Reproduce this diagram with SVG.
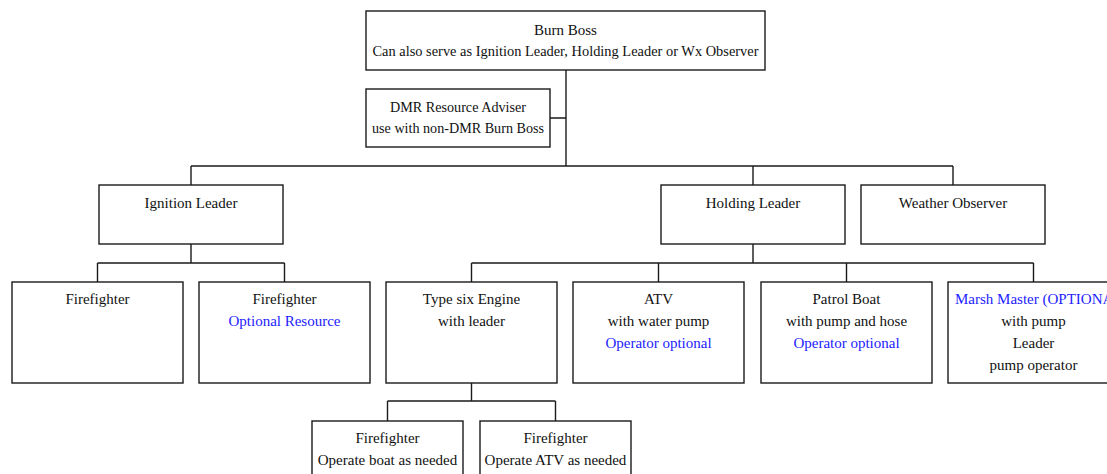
<svg xmlns="http://www.w3.org/2000/svg" width="1107" height="474" viewBox="0 0 1107 474">
<style>
.box{fill:#fff;stroke:#1a1a1a;stroke-width:1.4}
.ln{fill:none;stroke:#1a1a1a;stroke-width:1.4}
text{font-family:"Liberation Serif","Times New Roman",serif;font-size:15px;fill:#111;text-anchor:middle}
.opt{fill:#2222ff}
</style>
<rect width="1107" height="474" fill="#fff"/>
<g id="connectors">
<path class="ln" d="M566,70 V166 M550,118 H566 M191,166 H953 M191,166 V185 M753,166 V185 M953,166 V185"/>
<path class="ln" d="M191,244 V263 M97.5,263 H284.5 M97.5,263 V282 M284.5,263 V282"/>
<path class="ln" d="M753,244 V263 M471.5,263 H1033.5 M471.5,263 V282 M658.5,263 V282 M846.5,263 V282 M1033.5,263 V282"/>
<path class="ln" d="M471.5,383 V401 M387.5,401 H555.5 M387.5,401 V421 M555.5,401 V421"/>
</g>
<g id="burn-boss"><rect class="box" x="366" y="11" width="399" height="59"/><text x="565.5" y="35">Burn Boss</text><text x="565.5" y="56" textLength="386" lengthAdjust="spacingAndGlyphs">Can also serve as Ignition Leader, Holding Leader or Wx Observer</text></g>
<g id="dmr-adviser"><rect class="box" x="366" y="89" width="184" height="58"/><text x="458" y="112" textLength="136" lengthAdjust="spacingAndGlyphs">DMR Resource Adviser</text><text x="458" y="133" textLength="172" lengthAdjust="spacingAndGlyphs">use with non-DMR Burn Boss</text></g>
<g id="ignition-leader"><rect class="box" x="99" y="185" width="184" height="59"/><text x="191" y="208">Ignition Leader</text></g>
<g id="holding-leader"><rect class="box" x="661" y="185" width="184" height="59"/><text x="753" y="208">Holding Leader</text></g>
<g id="weather-observer"><rect class="box" x="861" y="185" width="184" height="59"/><text x="953" y="208">Weather Observer</text></g>
<g id="firefighter-1"><rect class="box" x="12" y="282" width="171" height="101"/><text x="97.5" y="304">Firefighter</text></g>
<g id="firefighter-2"><rect class="box" x="199" y="282" width="171" height="101"/><text x="284.5" y="304">Firefighter</text><text class="opt" x="284.5" y="326">Optional Resource</text></g>
<g id="type-six-engine"><rect class="box" x="386" y="282" width="171" height="101"/><text x="471.5" y="304">Type six Engine</text><text x="471.5" y="326">with leader</text></g>
<g id="atv"><rect class="box" x="573" y="282" width="171" height="101"/><text x="658.5" y="304">ATV</text><text x="658.5" y="326">with water pump</text><text class="opt" x="658.5" y="348">Operator optional</text></g>
<g id="patrol-boat"><rect class="box" x="761" y="282" width="171" height="101"/><text x="846.5" y="304">Patrol Boat</text><text x="846.5" y="326">with pump and hose</text><text class="opt" x="846.5" y="348">Operator optional</text></g>
<g id="marsh-master"><rect class="box" x="948" y="282" width="171" height="101"/><text class="opt" x="955" y="304" style="text-anchor:start">Marsh Master (OPTIONAL)</text><text x="1033.5" y="326">with pump</text><text x="1033.5" y="348">Leader</text><text x="1033.5" y="370">pump operator</text></g>
<g id="firefighter-boat"><rect class="box" x="312" y="421" width="151" height="80"/><text x="387.5" y="443">Firefighter</text><text x="387.5" y="465">Operate boat as needed</text></g>
<g id="firefighter-atv"><rect class="box" x="480" y="421" width="151" height="80"/><text x="555.5" y="443">Firefighter</text><text x="555.5" y="465">Operate ATV as needed</text></g>
</svg>
